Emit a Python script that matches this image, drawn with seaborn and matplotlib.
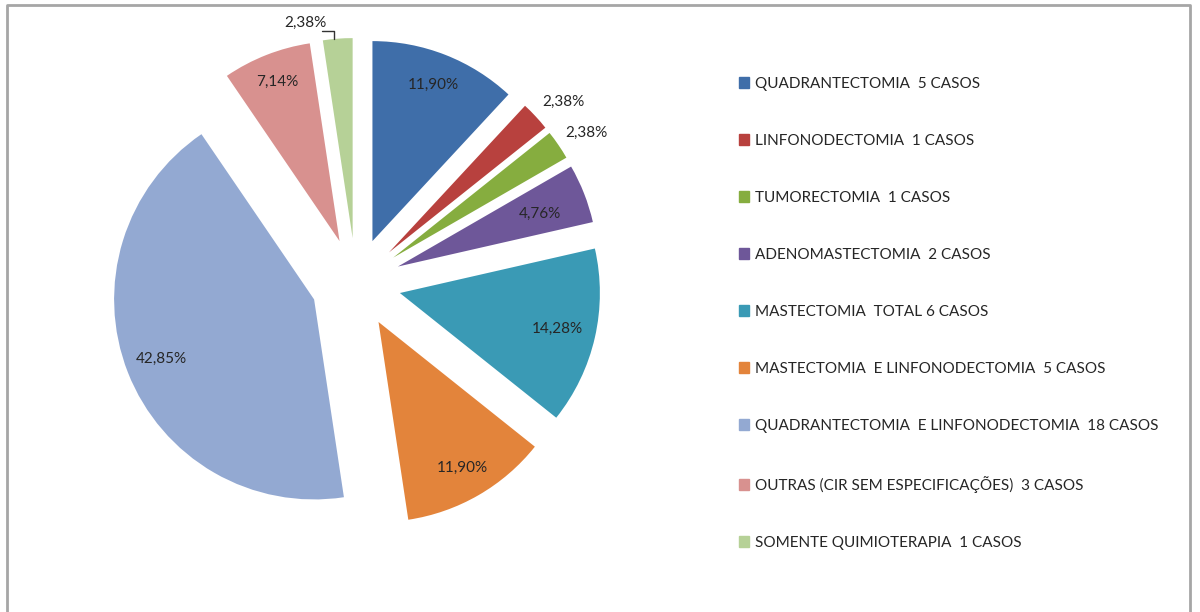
import numpy as np
import matplotlib
matplotlib.use("Agg")
import matplotlib.pyplot as plt
import seaborn as sns

sns.set_theme(style="white")
plt.rcParams['font.family'] = ['Lato', 'DejaVu Sans']

categories = [
    "QUADRANTECTOMIA  5 CASOS",
    "LINFONODECTOMIA  1 CASOS",
    "TUMORECTOMIA  1 CASOS",
    "ADENOMASTECTOMIA  2 CASOS",
    "MASTECTOMIA  TOTAL 6 CASOS",
    "MASTECTOMIA  E LINFONODECTOMIA  5 CASOS",
    "QUADRANTECTOMIA  E LINFONODECTOMIA  18 CASOS",
    "OUTRAS (CIR SEM ESPECIFICAÇÕES)  3 CASOS",
    "SOMENTE QUIMIOTERAPIA  1 CASOS",
]
cases = [5, 1, 1, 2, 6, 5, 18, 3, 1]
pct_labels = ["11,90%", "2,38%", "2,38%", "4,76%", "14,28%", "11,90%", "42,85%", "7,14%", "2,38%"]

colors = ["#3F6EA9", "#B8413E", "#86AD3F", "#6E5799", "#3A9AB5",
          "#E3843B", "#93A9D2", "#D8918F", "#B6D197"]
label_r = [0.84, 1.15, 1.15, 0.76, 0.81, 0.84, 0.82, 0.855, 1.1]
label_dang = [0, -2, -1.5, -1, 0, 0, 0, 0, 8]

fig = plt.figure(figsize=(12, 6.12), dpi=100)
W, H = 1200, 612
cx, cy = 356, 283
half = 280
ax = fig.add_axes([(cx - half) / W, (H - cy - half) / H, 2 * half / W, 2 * half / H])
wedges, _ = ax.pie(cases, colors=colors, startangle=90, counterclock=False,
                   explode=[0.225] * len(cases), radius=1.0,
                   wedgeprops=dict(linewidth=0))
ax.set_xlim(-1.4, 1.4)
ax.set_ylim(-1.4, 1.4)
ax.set_aspect('equal')
ax.axis('off')

for i, w in enumerate(wedges):
    mid = np.deg2rad((w.theta1 + w.theta2) / 2 + label_dang[i])
    x0, y0 = w.center
    tx = x0 + label_r[i] * np.cos(mid)
    ty = y0 + label_r[i] * np.sin(mid)
    ax.text(tx, ty, pct_labels[i], ha='center', va='center', fontsize=11,
            color='#262626')

# leader line for the last (thin) slice
w = wedges[-1]
mid = np.deg2rad((w.theta1 + w.theta2) / 2)
x0, y0 = w.center
px, py = x0 + 1.0 * np.cos(mid), y0 + 1.0 * np.sin(mid)
ax.plot([px - 0.02, px - 0.02, px - 0.08], [py - 0.0, py + 0.04, py + 0.04],
        color='#333333', lw=1.0, clip_on=False)

handles = [plt.Rectangle((0, 0), 1, 1, color=c) for c in colors]
leg = fig.legend(handles, categories, loc='upper left',
                 bbox_to_anchor=(728 / W, 1 - 66 / H), frameon=False,
                 fontsize=11, labelspacing=2.815, handlelength=0.7,
                 handleheight=0.7, handletextpad=0.35, borderpad=0.2)
for t in leg.get_texts():
    t.set_color('#262626')

# outer border of chart area
fig.add_artist(plt.Line2D([7 / W, 7 / W, 1190 / W, 1190 / W],
                          [0, 1 - 5 / H, 1 - 5 / H, 0],
                          transform=fig.transFigure, color='#A6A6A6', lw=2))

fig.savefig("out.png", dpi=100, facecolor='white')
